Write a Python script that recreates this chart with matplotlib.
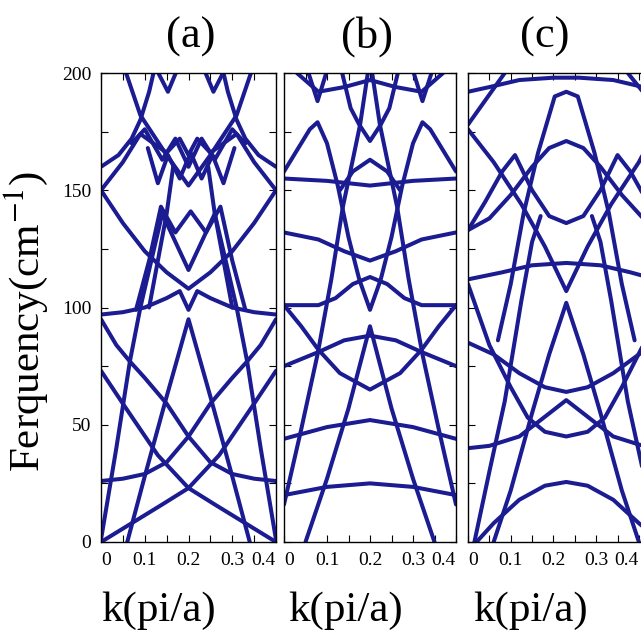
import matplotlib
matplotlib.use("Agg")
import matplotlib.pyplot as plt

# ---- panel (a) bands : k (pi/a), frequency (cm-1)
a1_k = [0, 0.07, 0.14, 0.2, 0.26, 0.33, 0.4]
a1_f = [0, 8, 16, 23, 16, 8, 0]
a2_k = [0, 0.05, 0.13, 0.2, 0.27, 0.35, 0.4]
a2_f = [73, 59, 37, 23, 37, 59, 73]
a3_k = [0, 0.05, 0.1, 0.15, 0.2, 0.25, 0.3, 0.35, 0.4]
a3_f = [26, 27, 29, 34, 45, 34, 29, 27, 26]
a4_k = [0, 0.035, 0.066, 0.1, 0.15, 0.2, 0.25, 0.3, 0.334, 0.365, 0.4]
a4_f = [1, 40, 77, 70, 59, 45, 59, 70, 77, 40, 1]
a5_k = [0.06, 0.1, 0.15, 0.2, 0.25, 0.3, 0.34]
a5_f = [0, 28, 62, 95, 62, 28, 0]
a6_k = [0, 0.035, 0.066, 0.09, 0.115, 0.14, 0.17, 0.2, 0.23, 0.26, 0.285, 0.31, 0.334, 0.365, 0.4]
a6_f = [95, 84, 77, 100, 120, 140, 128, 116, 128, 140, 120, 100, 77, 84, 95]
a7_k = [0, 0.05, 0.1, 0.15, 0.2, 0.25, 0.3, 0.35, 0.4]
a7_f = [150, 136, 124, 115, 108, 115, 124, 136, 150]
a8_k = [0, 0.05, 0.1, 0.15, 0.18, 0.2, 0.22, 0.25, 0.3, 0.35, 0.4]
a8_f = [97, 98, 100, 104, 107, 99, 107, 104, 100, 98, 97]
a9_k = [0, 0.04, 0.07, 0.09, 0.11, 0.125]
a9_f = [160, 165, 172, 180, 192, 204]
a9r_k = [0.275, 0.29, 0.31, 0.33, 0.36, 0.4]
a9r_f = [204, 192, 180, 172, 165, 160]
a10_k = [0, 0.05, 0.09, 0.12, 0.15, 0.18, 0.2, 0.22, 0.25, 0.28, 0.31, 0.35, 0.4]
a10_f = [150, 162, 174, 170, 166, 172, 165, 172, 166, 170, 174, 162, 150]
a11_k = [0.107, 0.13, 0.153, 0.18, 0.205, 0.23, 0.255, 0.28, 0.305]
a11_f = [168, 153, 165, 155, 166, 155, 165, 153, 168]
a12_k = [0.05, 0.09, 0.15, 0.2, 0.25, 0.31, 0.35]
a12_f = [204, 182, 165, 152, 165, 182, 204]
a13_k = [0.12, 0.153, 0.18]
a13_f = [204, 192, 204]
a13r_k = [0.23, 0.257, 0.29]
a13r_f = [204, 192, 204]
a14_k = [0.07, 0.1, 0.14, 0.17, 0.2, 0.23, 0.26, 0.3, 0.33]
a14_f = [170, 176, 163, 172, 160, 172, 163, 176, 170]
a15_k = [0.08, 0.11, 0.137, 0.17, 0.205, 0.24, 0.273, 0.3, 0.33]
a15_f = [99, 120, 143, 132, 141, 132, 143, 120, 99]
a16_k = [0.11, 0.13, 0.15, 0.165]
a16_f = [100, 120, 140, 160]
a16r_k = [0.3, 0.28, 0.26, 0.245]
a16r_f = [100, 120, 140, 160]

# ---- panel (b)
b1_k = [0, 0.1, 0.2, 0.3, 0.4]
b1_f = [20, 23.5, 25, 23.5, 20]
b2_k = [0, 0.1, 0.2, 0.3, 0.4]
b2_f = [44, 49, 52, 49, 44]
b3_k = [0.05, 0.1, 0.15, 0.2, 0.25, 0.3, 0.35]
b3_f = [0, 27, 57, 92, 57, 27, 0]
b4_k = [0, 0.04, 0.078, 0.11, 0.137, 0.16, 0.177, 0.195]
b4_f = [16, 48, 80, 112, 143, 163, 178, 200]
b4r_k = [0.4, 0.36, 0.322, 0.29, 0.263, 0.24, 0.223, 0.205]
b4r_f = [16, 48, 80, 112, 143, 163, 178, 200]
b6_k = [0, 0.08, 0.14, 0.2, 0.26, 0.32, 0.4]
b6_f = [75, 81, 86, 88, 86, 81, 75]
b7_k = [0, 0.04, 0.08, 0.13, 0.2, 0.27, 0.32, 0.36, 0.4]
b7_f = [101, 92, 82, 72, 65, 72, 82, 92, 101]
b8_k = [0, 0.08, 0.12, 0.16, 0.2, 0.24, 0.28, 0.32, 0.4]
b8_f = [101, 101, 104, 110, 113, 110, 104, 101, 101]
b9_k = [0, 0.08, 0.14, 0.2, 0.26, 0.32, 0.4]
b9_f = [132, 129, 124, 120, 124, 129, 132]
b10_k = [0, 0.1, 0.2, 0.3, 0.4]
b10_f = [155, 154, 152, 154, 155]
b11_k = [0, 0.03, 0.06, 0.078, 0.1, 0.125, 0.15, 0.175, 0.2, 0.225, 0.25, 0.275, 0.3, 0.322, 0.34, 0.37, 0.4]
b11_f = [158, 167, 176, 179, 170, 152, 130, 112, 99, 112, 130, 152, 170, 179, 176, 167, 158]
b12_k = [0.03, 0.08, 0.14, 0.2, 0.26, 0.32, 0.37]
b12_f = [200, 192, 194, 197, 194, 192, 200]
b13_k = [0.05, 0.078, 0.105]
b13_f = [204, 188, 204]
b13r_k = [0.295, 0.322, 0.35]
b13r_f = [204, 188, 204]
b14_k = [0.13, 0.155, 0.175, 0.2, 0.225, 0.245, 0.27]
b14_f = [204, 185, 178, 171, 178, 185, 204]
b15_k = [0.13, 0.16, 0.2, 0.24, 0.27]
b15_f = [150, 158, 163, 158, 150]

# ---- panel (c)
c1_k = [0, 0.05, 0.12, 0.2, 0.23, 0.26, 0.34, 0.41, 0.44]
c1_f = [192, 194, 197, 198, 198, 198, 197, 194, 192]
c2_k = [0.07, 0.1, 0.13, 0.164, 0.203, 0.23, 0.257, 0.296, 0.33, 0.36, 0.39]
c2_f = [86, 110, 140, 166, 190, 192, 190, 166, 140, 110, 86]
c3_k = [0, 0.06, 0.125, 0.18, 0.23, 0.28, 0.335, 0.4, 0.44]
c3_f = [176, 162, 144, 126, 107, 126, 144, 162, 176]
c4_k = [0, 0.05, 0.1, 0.15, 0.19, 0.23, 0.27, 0.31, 0.36, 0.41, 0.44]
c4_f = [133, 138, 148, 160, 168, 171, 168, 160, 148, 138, 133]
c5_k = [0, 0.04, 0.08, 0.11, 0.15, 0.19, 0.23, 0.27, 0.31, 0.35, 0.38, 0.42, 0.44]
c5_f = [133, 145, 158, 165, 150, 139, 136, 139, 150, 165, 158, 145, 138]
c6_k = [0, 0.08, 0.15, 0.23, 0.31, 0.38, 0.44]
c6_f = [112, 115, 118, 119, 118, 115, 112]
c7_k = [0.06, 0.1, 0.15, 0.19, 0.23, 0.27, 0.31, 0.36, 0.4]
c7_f = [0, 22, 55, 80, 102, 80, 55, 22, 0]
c9_k = [0, 0.06, 0.12, 0.18, 0.23, 0.28, 0.34, 0.4, 0.44]
c9_f = [85, 80, 72, 66, 64, 66, 72, 80, 85]
c10_k = [0, 0.05, 0.12, 0.17, 0.23, 0.29, 0.34, 0.41, 0.44]
c10_f = [40, 41, 45, 52, 60.5, 52, 45, 41, 40]
c11_k = [0, 0.05, 0.1, 0.14, 0.18, 0.23, 0.28, 0.32, 0.36, 0.41, 0.44]
c11_f = [110, 84, 66, 53, 47, 45, 47, 53, 66, 84, 100]
c13_k = [0.02, 0.06, 0.12, 0.18, 0.23, 0.28, 0.34, 0.4, 0.44]
c13_f = [0, 8, 18, 24, 25.6, 24, 18, 8, 2]
c14_k = [0.015, 0.05, 0.086, 0.125, 0.15, 0.17]
c14_f = [0, 30, 60, 103, 128, 139]
c14r_k = [0.445, 0.41, 0.374, 0.335, 0.31, 0.29]
c14r_f = [0, 30, 60, 103, 128, 139]
c17_k = [0, 0.086]
c17_f = [178, 200]
c17r_k = [0.374, 0.44]
c17r_f = [200, 185]

panels = [
    ("(a)", (0, 0.4), [(a1_k, a1_f), (a2_k, a2_f), (a3_k, a3_f), (a4_k, a4_f), (a5_k, a5_f),
                      (a6_k, a6_f), (a7_k, a7_f), (a8_k, a8_f), (a9_k, a9_f), (a9r_k, a9r_f),
                      (a10_k, a10_f), (a11_k, a11_f), (a12_k, a12_f), (a13_k, a13_f),
                      (a13r_k, a13r_f), (a14_k, a14_f), (a15_k, a15_f), (a16_k, a16_f),
                      (a16r_k, a16r_f)]),
    ("(b)", (0, 0.4), [(b1_k, b1_f), (b2_k, b2_f), (b3_k, b3_f), (b4_k, b4_f), (b4r_k, b4r_f),
                      (b6_k, b6_f), (b7_k, b7_f), (b8_k, b8_f), (b9_k, b9_f), (b10_k, b10_f),
                      (b11_k, b11_f), (b12_k, b12_f), (b13_k, b13_f), (b13r_k, b13r_f),
                      (b14_k, b14_f), (b15_k, b15_f)]),
    ("(c)", (0, 0.44), [(c1_k, c1_f), (c2_k, c2_f), (c3_k, c3_f), (c4_k, c4_f), (c5_k, c5_f),
                       (c6_k, c6_f), (c7_k, c7_f), (c9_k, c9_f), (c10_k, c10_f), (c11_k, c11_f),
                       (c13_k, c13_f), (c14_k, c14_f), (c14r_k, c14r_f), (c17_k, c17_f),
                       (c17r_k, c17r_f)]),
]

xticks = [0, 0.1, 0.2, 0.3, 0.4]
xtick_labels = ["0", "0.1", "0.2", "0.3", "0.4"]
yticks = [0, 50, 100, 150, 200]

plt.rcParams["font.family"] = ["Liberation Serif", "DejaVu Serif"]
plt.rcParams["mathtext.fontset"] = "stix"
line_color = "#1b1b92"

W, H = 641, 643
fig = plt.figure(figsize=(W / 100, H / 100), dpi=100)

# axes boxes in pixels (left, right), title x and xlabel x in axes fraction
boxes = [(101, 276), (284, 456), (468, 656)]
title_x = [0.51, 0.48, 0.41]
xlabel_x = [0.33, 0.36, 0.33]
top, bottom = 73, 542

for i, (title, xlim, curves) in enumerate(panels):
    l, r = boxes[i]
    ax = fig.add_axes([l / W, (H - bottom) / H, (r - l) / W, (bottom - top) / H])
    for k, f in curves:
        ax.plot(k, f, color=line_color, lw=2.9, solid_joinstyle="round", solid_capstyle="round")
    ax.set_xlim(*xlim)
    ax.set_ylim(0, 200)
    ax.set_xticks(xticks)
    ax.set_xticks([0.05, 0.15, 0.25, 0.35], minor=True)
    ax.set_xticklabels(xtick_labels, fontsize=14)
    labels = ax.get_xticklabels()
    labels[0].set_horizontalalignment("left")
    labels[-1].set_horizontalalignment("right")
    ax.set_yticks(yticks)
    ax.set_yticks([25, 75, 125, 175], minor=True)
    if i == 0:
        ax.set_yticklabels([str(v) for v in yticks], fontsize=14)
        ax.set_ylabel("Ferquency(cm$^{-1}$)", fontsize=31)
        ax.yaxis.set_label_coords(-0.29, 0.47)
    else:
        ax.set_yticklabels([])
    ax.tick_params(which="both", direction="in", length=5, width=0.8, top=True, right=True, pad=7)
    for s in ax.spines.values():
        s.set_linewidth(1.0)
    ax.set_title(title, fontsize=32, x=title_x[i], pad=18)
    ax.set_xlabel("k(pi/a)", fontsize=31)
    ax.xaxis.set_label_coords(xlabel_x[i], -0.105)

plt.savefig("out.png", dpi=100)
